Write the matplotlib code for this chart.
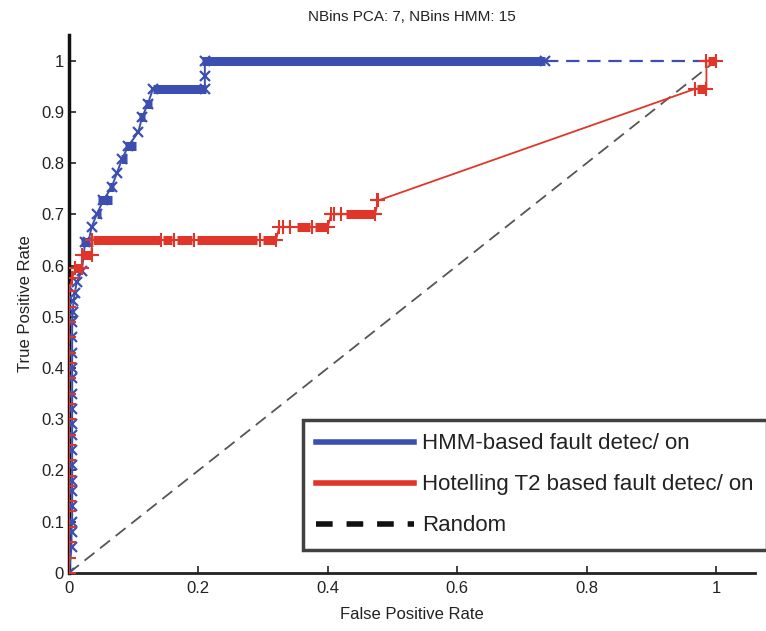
import matplotlib
matplotlib.use("Agg")
import matplotlib.pyplot as plt
from matplotlib.lines import Line2D

plt.rcParams['font.family'] = ['Liberation Sans', 'DejaVu Sans']

# ---------------- data ----------------
title = "NBins PCA: 7, NBins HMM: 15"
xlabel = "False Positive Rate"
ylabel = "True Positive Rate"
legend_labels = ["HMM-based fault detec/ on", "Hotelling T2 based fault detec/ on", "Random"]

# HMM ROC curve (FPR, TPR)
hmm_fpr = [0.0, 0.004, 0.004, 0.005, 0.005, 0.005, 0.005, 0.005, 0.005, 0.005, 0.005,
           0.005, 0.005, 0.005, 0.005, 0.005, 0.005, 0.005, 0.006, 0.007, 0.009, 0.012,
           0.02, 0.025, 0.03, 0.035, 0.043, 0.053, 0.066, 0.074, 0.082, 0.092, 0.107,
           0.113, 0.122, 0.13, 0.21, 0.21, 0.21, 0.735]
hmm_tpr = [0.0, 0.05, 0.08, 0.10, 0.13, 0.16, 0.18, 0.21, 0.24, 0.27, 0.29,
           0.32, 0.35, 0.38, 0.40, 0.43, 0.46, 0.49, 0.51, 0.53, 0.546, 0.567,
           0.59, 0.645, 0.645, 0.675, 0.70, 0.727, 0.753, 0.78, 0.808, 0.834, 0.86,
           0.889, 0.916, 0.945, 0.945, 0.97, 1.0, 1.0]
hmm_tail_fpr = [0.735, 1.0]
hmm_tail_tpr = [1.0, 1.0]
# dense-marker blocks on HMM curve: (fpr_start, fpr_end, tpr)
hmm_blocks_start = [0.018, 0.043, 0.045, 0.062, 0.080, 0.087, 0.108, 0.118, 0.130, 0.205]
hmm_blocks_end   = [0.032, 0.050, 0.066, 0.070, 0.090, 0.103, 0.118, 0.128, 0.212, 0.735]
hmm_blocks_tpr   = [0.645, 0.70, 0.727, 0.753, 0.808, 0.834, 0.889, 0.916, 0.945, 1.0]

# Hotelling T2 ROC curve (FPR, TPR)
t2_fpr = [0.0, 0.0, 0.0, 0.0, 0.0, 0.0, 0.0, 0.0, 0.0, 0.0, 0.0, 0.0, 0.0, 0.0,
          0.0, 0.0, 0.0, 0.0, 0.0, 0.0, 0.0, 0.005, 0.01, 0.02, 0.02, 0.035, 0.035,
          0.32, 0.325, 0.40, 0.405, 0.473, 0.478, 0.968, 0.985, 0.985, 1.0]
t2_tpr = [0.0, 0.03, 0.06, 0.09, 0.12, 0.14, 0.17, 0.19, 0.22, 0.25, 0.27, 0.30,
          0.33, 0.35, 0.38, 0.41, 0.43, 0.46, 0.49, 0.52, 0.55, 0.575, 0.595, 0.595,
          0.62, 0.62, 0.65, 0.65, 0.675, 0.675, 0.70, 0.70, 0.727, 0.945, 0.945, 1.0, 1.0]
t2_blocks_start = [0.008, 0.018, 0.037, 0.146, 0.167, 0.198, 0.300, 0.352, 0.380, 0.428, 0.970, 0.987]
t2_blocks_end   = [0.020, 0.035, 0.141, 0.160, 0.190, 0.290, 0.320, 0.372, 0.400, 0.473, 0.985, 1.000]
t2_blocks_tpr   = [0.595, 0.62, 0.65, 0.65, 0.65, 0.65, 0.65, 0.675, 0.675, 0.70, 0.945, 1.0]
# extra '+' markers inside red gaps
t2_mk_fpr = [0.143, 0.163, 0.194, 0.295, 0.33, 0.342, 0.376, 0.41, 0.42, 0.476]
t2_mk_tpr = [0.65, 0.65, 0.65, 0.65, 0.675, 0.675, 0.675, 0.70, 0.70, 0.727]

rand_x = [0.0, 1.0]
rand_y = [0.0, 1.0]

xticks = [0, 0.2, 0.4, 0.6, 0.8, 1]
xticklabels = ["0", "0.2", "0.4", "0.6", "0.8", "1"]
yticks = [0, 0.1, 0.2, 0.3, 0.4, 0.5, 0.6, 0.7, 0.8, 0.9, 1]
yticklabels = ["0", "0.1", "0.2", "0.3", "0.4", "0.5", "0.6", "0.7", "0.8", "0.9", "1"]

# ---------------- style ----------------
BLUE = "#3c4fb0"
RED = "#e2352a"
GRAY = "#555555"

fig = plt.figure(figsize=(7.66, 6.31), dpi=100)
ax = fig.add_axes([0.090, 0.092, 0.8956, 0.8526])

# random
ax.plot(rand_x, rand_y, color=GRAY, lw=1.3, dashes=(7, 4), zorder=1)

# HMM
ax.plot(hmm_tail_fpr, hmm_tail_tpr, color=BLUE, lw=1.6, dashes=(6, 3.5), zorder=2)
ax.plot(hmm_fpr, hmm_tpr, color=BLUE, lw=1.4, marker='x', ms=7, mew=1.6, zorder=3)
for s, e, t in zip(hmm_blocks_start, hmm_blocks_end, hmm_blocks_tpr):
    ax.plot([s, e], [t, t], color=BLUE, lw=6.5, solid_capstyle='butt', zorder=3)

# T2
ax.plot(t2_fpr, t2_tpr, color=RED, lw=1.3, marker='+', ms=10, mew=1.5, zorder=4)
ax.plot(t2_mk_fpr, t2_mk_tpr, ls='none', color=RED, marker='+', ms=10, mew=1.5, zorder=4)
for s, e, t in zip(t2_blocks_start, t2_blocks_end, t2_blocks_tpr):
    ax.plot([s, e], [t, t], color=RED, lw=6.5, solid_capstyle='butt', zorder=4)

ax.set_xlim(0, 1.06)
ax.set_ylim(0, 1.05)
ax.set_xticks(xticks)
ax.set_xticklabels(xticklabels)
ax.set_yticks(yticks)
ax.set_yticklabels(yticklabels)
ax.tick_params(direction='in', length=5, width=1.2, labelsize=12, colors='#222222')
ax.tick_params(axis='x', pad=6)
for sp in ['top', 'right']:
    ax.spines[sp].set_visible(False)
ax.spines['left'].set_linewidth(2.5)
ax.spines['bottom'].set_linewidth(2.0)
ax.spines['left'].set_color('#111111')
ax.spines['bottom'].set_color('#222222')

ax.set_title(title, fontsize=11, color='#222222', pad=10)
ax.set_xlabel(xlabel, fontsize=12, color='#222222', labelpad=8)
ax.set_ylabel(ylabel, fontsize=12, color='#222222', labelpad=6)

handles = [Line2D([], [], color=BLUE, lw=4),
           Line2D([], [], color=RED, lw=4),
           Line2D([], [], color='#111111', lw=4, dashes=(3, 2.5))]
leg = ax.legend(handles, legend_labels, loc='lower left',
                bbox_to_anchor=(0.341, 0.043), fontsize=16, frameon=True,
                fancybox=False, handlelength=4.4, handletextpad=0.35,
                borderpad=0.6, labelspacing=0.9, borderaxespad=0)
leg.get_frame().set_edgecolor('#111111')
leg.get_frame().set_linewidth(2.5)
leg.set_zorder(10)
for t in leg.get_texts():
    t.set_color('#222222')

fig.savefig("out.png", dpi=100)
